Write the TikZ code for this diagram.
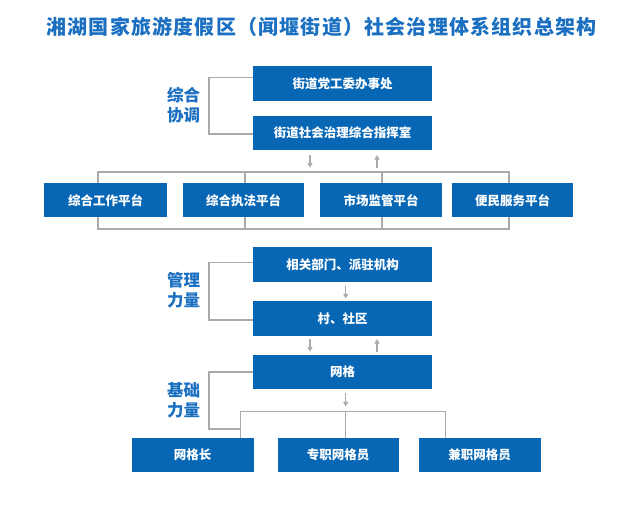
\documentclass[tikz,border=0pt]{standalone}
\usepackage{fontspec}
\setmainfont{Noto Sans CJK SC}
\newfontfamily\titlefont[LetterSpace=6]{Noto Sans CJK SC}
\usetikzlibrary{arrows.meta,calc}
\definecolor{boxblue}{HTML}{0767B5}
\definecolor{titleblue}{HTML}{1A6FC0}
\definecolor{linegray}{HTML}{AAAAAA}
\begin{document}
\begin{tikzpicture}[x=1pt,y=-1pt,
  box/.style={fill=boxblue, draw=none, text=white, font=\bfseries\fontsize{12.5}{14}\selectfont, inner sep=0pt, anchor=north west},
  lab/.style={text=titleblue, font=\bfseries\fontsize{16.5}{20}\selectfont, align=center, inner sep=0pt},
  conn/.style={draw=linegray, line width=1.3pt},
  arr/.style={draw=linegray, line width=1.3pt, -{Triangle[width=5pt,length=4.5pt]}}
]
\useasboundingbox (0,0) rectangle (640,514);

% title
\node[text=titleblue, font=\titlefont\bfseries\fontsize{20}{24}\selectfont, inner sep=0pt] (title) at (321.5,26.5) {湘湖国家旅游度假区（闻堰街道）社会治理体系组织总架构};

% side labels
\node[lab] (l1) at (183.5,105) {综合\\协调};
\node[lab] (l2) at (183.5,290.5) {管理\\力量};
\node[lab] (l3) at (183.5,400) {基础\\力量};

% platform bus (behind boxes)
\coordinate (pa) at (98,172);
\coordinate (pb) at (509,229);
\draw[conn] (pa) rectangle (pb);
\draw[conn] (245,172) -- (245,229);
\draw[conn] (382,172) -- (382,229);

% grid tree coordinates
\coordinate (t1) at (240.7,411.5);
\coordinate (t2) at (345.7,411.5);
\coordinate (t3) at (445.3,411.5);

% boxes
\node[box, minimum width=179, minimum height=35] (b1) at (253,66) {街道党工委办事处};
\node[box, minimum width=179, minimum height=34] (b2) at (253,116) {街道社会治理综合指挥室};

\node[box, minimum width=123, minimum height=34] (p1) at (44,183) {综合工作平台};
\node[box, minimum width=121, minimum height=34] (p2) at (183,183) {综合执法平台};
\node[box, minimum width=122, minimum height=34] (p3) at (320,183) {市场监管平台};
\node[box, minimum width=121, minimum height=34] (p4) at (452,183) {便民服务平台};

\node[box, minimum width=179, minimum height=35] (b3) at (253,247) {相关部门、派驻机构};
\node[box, minimum width=179, minimum height=35] (b4) at (253,301) {村、社区};
\node[box, minimum width=179, minimum height=34] (b5) at (253,355) {网格};

\node[box, minimum width=121.6, minimum height=34] (g1) at (131.7,438) {网格长};
\node[box, minimum width=121, minimum height=34] (g2) at (277.3,438) {专职网格员};
\node[box, minimum width=122.4, minimum height=34] (g3) at (418.3,438) {兼职网格员};

% brackets
\draw[conn] (b1.west |- 0,77.7) -- (209,77.7) -- (209,134) -- (b2.west |- 0,134);
\draw[conn] (b3.west |- 0,262.7) -- (209,262.7) -- (209,320) -- (b4.west |- 0,320);
\draw[conn] (b5.west |- 0,372) -- (209,372) -- (209,429) -- (240.7,429);

% tree to grid members
\draw[conn] (g1.north -| t1) -- (t1) -- (t3) -- (g3.north -| t3);
\draw[conn] (t2) -- (g2.north -| t2);

% arrows
\coordinate (a1s) at (310,155); \coordinate (a1e) at (310,167.5);
\coordinate (a2s) at (377,167.5); \coordinate (a2e) at (377,155);
\draw[arr] (a1s) -- (a1e);
\draw[arr] (a2s) -- (a2e);
\draw[arr] (b3.south -| 345.7,0) ++(0,3.5) -- ++(0,12.5);
\coordinate (a3s) at (310,339); \coordinate (a3e) at (310,351.5);
\coordinate (a4s) at (377,351.5); \coordinate (a4e) at (377,339);
\draw[arr] (a3s) -- (a3e);
\draw[arr] (a4s) -- (a4e);
\draw[arr] (b5.south -| t2) ++(0,4) -- ++(0,13);
\end{tikzpicture}
\end{document}
